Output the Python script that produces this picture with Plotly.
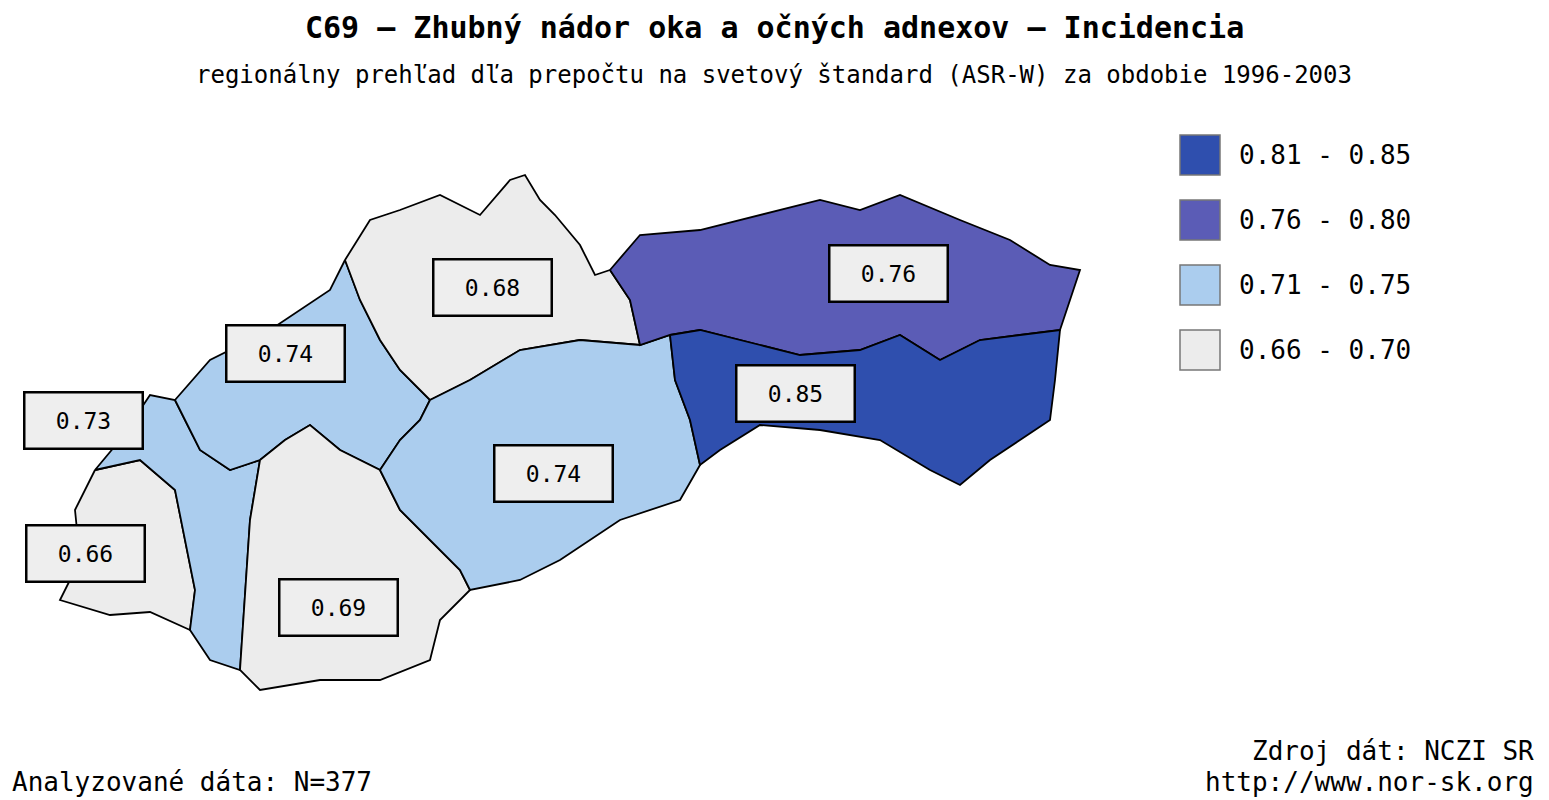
import plotly.graph_objects as go

regions = ["Bratislavský", "Trnavský", "Trenčiansky", "Žilinský", "Nitriansky", "Banskobystrický", "Prešovský", "Košický"]
values = [0.66, 0.73, 0.74, 0.68, 0.69, 0.74, 0.76, 0.85]
label_pos = [(85, 553), (83, 420), (285, 353), (492, 287), (338, 607), (553, 473), (888, 273), (795, 393)]
legend_labels = ["0.81 - 0.85", "0.76 - 0.80", "0.71 - 0.75", "0.66 - 0.70"]
legend_colors = ["#2f4fae", "#5b5cb6", "#abcdee", "#ececec"]
bins = [(0.81, 0.85), (0.76, 0.80), (0.71, 0.75), (0.66, 0.70)]

shapes_xy = {
 "Bratislavský": [(95,470),(140,460),(175,490),(185,540),(195,590),(190,630),(150,612),(110,615),(60,600),(80,560),(75,510)],
 "Trnavský": [(95,470),(120,440),(150,395),(175,400),(185,420),(200,450),(230,470),(260,460),(250,520),(245,600),(240,670),(210,660),(190,630),(195,590),(185,540),(175,490),(140,460)],
 "Trenčiansky": [(175,400),(210,360),(270,330),(330,290),(345,260),(360,300),(380,340),(400,370),(430,400),(420,420),(400,440),(380,470),(340,450),(310,425),(285,440),(260,460),(230,470),(200,450),(185,420)],
 "Žilinský": [(345,260),(370,220),(400,210),(440,195),(480,215),(510,180),(525,175),(540,200),(555,215),(580,245),(595,275),(610,270),(630,300),(640,345),(580,340),(520,350),(470,380),(430,400),(400,370),(380,340),(360,300)],
 "Nitriansky": [(260,460),(285,440),(310,425),(340,450),(380,470),(400,510),(430,540),(460,570),(470,590),(440,620),(430,660),(380,680),(320,680),(260,690),(240,670),(245,600),(250,520)],
 "Banskobystrický": [(430,400),(470,380),(520,350),(580,340),(640,345),(670,335),(675,380),(690,420),(700,465),(680,500),(620,520),(560,560),(520,580),(470,590),(460,570),(430,540),(400,510),(380,470),(400,440),(420,420)],
 "Prešovský": [(610,270),(640,235),(700,230),(760,215),(820,200),(860,210),(900,195),(960,220),(1010,240),(1050,265),(1080,270),(1070,300),(1060,330),(1020,335),(980,340),(940,360),(900,335),(860,350),(800,355),(760,345),(700,330),(670,335),(640,345),(630,300)],
 "Košický": [(670,335),(700,330),(760,345),(800,355),(860,350),(900,335),(940,360),(980,340),(1020,335),(1060,330),(1055,380),(1050,420),(1020,440),(990,460),(960,485),(930,470),(880,440),(820,430),(760,425),(720,450),(700,465),(690,420),(675,380)],
}

def color_for(v):
    for (lo, hi), c in zip(bins, legend_colors):
        if lo - 1e-9 <= v <= hi + 1e-9:
            return c
    return "#ffffff"

FONT = "DejaVu Sans Mono"
fig = go.Figure()
for r, v in zip(regions, values):
    pts = shapes_xy[r] + [shapes_xy[r][0]]
    fig.add_trace(go.Scatter(x=[p[0] for p in pts], y=[p[1] for p in pts], mode="lines",
                             fill="toself", fillcolor=color_for(v),
                             line=dict(color="black", width=1.8), hoverinfo="skip", showlegend=False))

ann = []
for v, (x, y) in zip(values, label_pos):
    ann.append(dict(x=x, y=y, text=f"{v:.2f}", showarrow=False, font=dict(family=FONT, size=23, color="black"),
                    bgcolor="#eeeeee", bordercolor="black", borderwidth=2.5, borderpad=2,
                    width=112, height=50))

shapes = []
for i, (lab, c) in enumerate(zip(legend_labels, legend_colors)):
    y0 = 135 + i * 65
    shapes.append(dict(type="rect", xref="x", yref="y", x0=1180, x1=1220, y0=y0, y1=y0 + 40,
                       fillcolor=c, line=dict(color="#777777", width=1.5)))
    ann.append(dict(x=1237, y=y0 + 20, text=lab, showarrow=False, xanchor="left",
                    font=dict(family=FONT, size=26, color="black")))

ann += [
    dict(x=774, y=27, text="<b>C69 – Zhubný nádor oka a očných adnexov – Incidencia</b>", showarrow=False,
         font=dict(family=FONT, size=30, color="black")),
    dict(x=774, y=75, text="regionálny prehľad dľa prepočtu na svetový štandard (ASR-W) za obdobie 1996-2003",
         showarrow=False, font=dict(family=FONT, size=24, color="black")),
    dict(x=10, y=782, text="Analyzované dáta: N=377", showarrow=False, xanchor="left",
         font=dict(family=FONT, size=26, color="black")),
    dict(x=1536, y=751, text="Zdroj dát: NCZI SR", showarrow=False, xanchor="right",
         font=dict(family=FONT, size=26, color="black")),
    dict(x=1536, y=782, text="http://www.nor-sk.org", showarrow=False, xanchor="right",
         font=dict(family=FONT, size=26, color="black")),
]

fig.update_layout(width=1549, height=800, margin=dict(l=0, r=0, t=0, b=0),
                  paper_bgcolor="white", plot_bgcolor="white",
                  xaxis=dict(range=[8, 1557], visible=False, fixedrange=True),
                  yaxis=dict(range=[808, 8], visible=False, fixedrange=True),
                  annotations=ann, shapes=shapes)
fig.write_html("out.html")
